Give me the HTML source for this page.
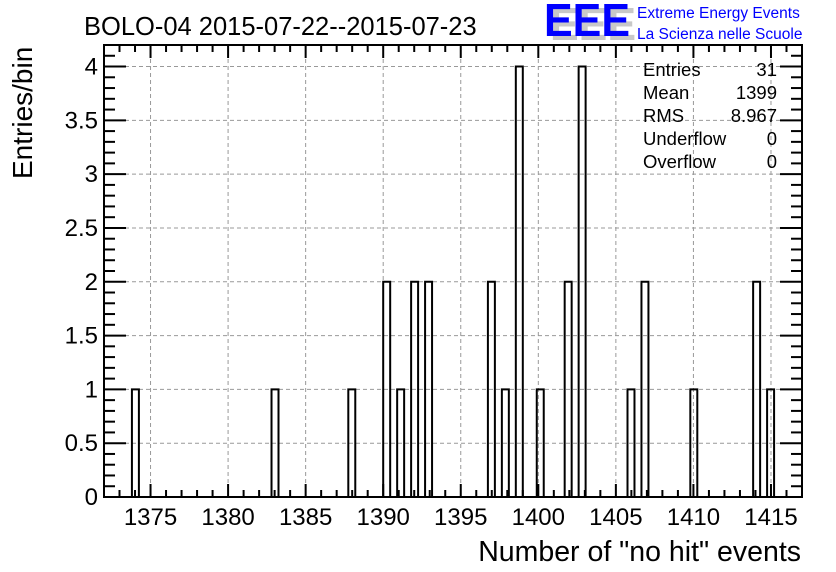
<!DOCTYPE html>
<html><head><meta charset="utf-8"><style>
html,body{margin:0;padding:0;background:#fff;}
svg{display:block;font-family:"Liberation Sans",Arial,sans-serif;}
</style></head><body>
<svg id="chart" width="836" height="572" viewBox="0 0 836 572" xmlns="http://www.w3.org/2000/svg">
<rect x="0" y="0" width="836" height="572" fill="#fff"/>
<g id="grid"></g>
<g id="bars"></g>
<g id="axes"></g>
<text x="84" y="35" font-size="25.5">BOLO-04 2015-07-22--2015-07-23</text>
<g>
<text x="550" y="40" font-size="46" font-weight="bold" fill="#c8c8c8" textLength="86" lengthAdjust="spacingAndGlyphs">EEE</text>
<text x="544" y="36" font-size="46" font-weight="bold" fill="#0000ff" textLength="86" lengthAdjust="spacingAndGlyphs">EEE</text>
<text x="637" y="18" font-size="15.5" fill="#0000ff">Extreme Energy Events</text>
<text x="637" y="39" font-size="15.5" fill="#0000ff">La Scienza nelle Scuole</text>
</g>
<g font-size="18.5">
<text x="643" y="76">Entries</text><text x="777" y="76" text-anchor="end">31</text>
<text x="643" y="99">Mean</text><text x="777" y="99" text-anchor="end">1399</text>
<text x="643" y="122">RMS</text><text x="777" y="122" text-anchor="end">8.967</text>
<text x="643" y="145">Underflow</text><text x="777" y="145" text-anchor="end">0</text>
<text x="643" y="168">Overflow</text><text x="777" y="168" text-anchor="end">0</text>
</g>
<text transform="translate(32,179) rotate(-90)" font-size="28">Entries/bin</text>
<text x="801" y="561" font-size="28.5" text-anchor="end">Number of "no hit" events</text>
</svg>
<script>
const binCenters = [1374.025,1383.025,1387.975,1390.225,1391.125,1392.025,1392.925,1396.975,1397.875,1398.775,1400.125,1401.925,1402.825,1405.975,1406.875,1410.025,1414.075,1414.975];
const binCounts = [1,1,1,2,1,2,2,2,1,4,1,2,4,1,2,1,2,1];
const xTickLabels = ["1375","1380","1385","1390","1395","1400","1405","1410","1415"];
const yTickLabels = ["0","0.5","1","1.5","2","2.5","3","3.5","4"];
const binWidth = 0.45;
const X0=104,X1=802,Y0=497,Y1=45,XMIN=1372,XMAX=1417,YMIN=0,YMAX=4.2;
const sx=v=>X0+(v-XMIN)/(XMAX-XMIN)*(X1-X0);
const sy=v=>Y0-(v-YMIN)/(YMAX-YMIN)*(Y0-Y1);
const NS="http://www.w3.org/2000/svg";
function mk(parent,tag,attrs){const e=document.createElementNS(NS,tag);for(const k in attrs)e.setAttribute(k,attrs[k]);parent.appendChild(e);return e;}
const grid=document.getElementById('grid'),bars=document.getElementById('bars'),axes=document.getElementById('axes');
xTickLabels.forEach(t=>{const v=parseFloat(t),x=sx(v);
 const g=mk(grid,'line',{x1:x,x2:x,y1:Y1,y2:Y0,stroke:'#999','stroke-dasharray':'4,3','stroke-width':1});
 
 
 const l=mk(axes,'text',{x:x,y:525,'font-size':24,'text-anchor':'middle'});l.textContent=t;
 
 
});
yTickLabels.forEach(t=>{const v=parseFloat(t),y=sy(v);
 if(v>0){const g=mk(grid,'line',{x1:X0,x2:X1,y1:y,y2:y,stroke:'#999','stroke-dasharray':'4,3','stroke-width':1});
 
 }
 const l=mk(axes,'text',{x:98,y:y+8,'font-size':24,'text-anchor':'end'});l.textContent=t;
 
 
});
binCenters.forEach((c,i)=>{const xa=sx(c-binWidth/2),xb=sx(c+binWidth/2),yt=sy(binCounts[i]);
 const p=mk(bars,'path',{d:`M${xa},${Y0}V${yt}H${xb}V${Y0}`,fill:'none',stroke:'#000','stroke-width':2});
 
 
});
const fr=mk(axes,'rect',{x:X0,y:Y1,width:X1-X0,height:Y0-Y1,fill:'none',stroke:'#000','stroke-width':2});


for(let v=XMIN;v<=XMAX;v++){const x=sx(v),L=(v%5===0)?13:7;
 mk(axes,'line',{x1:x,x2:x,y1:Y0,y2:Y0-L,stroke:'#000','stroke-width':2});
 mk(axes,'line',{x1:x,x2:x,y1:Y1,y2:Y1+L,stroke:'#000','stroke-width':2});}
for(let k=0;k<=42;k++){const v=k/10,y=sy(v),L=(k%5===0)?22:11;
 mk(axes,'line',{x1:X0,x2:X0+L,y1:y,y2:y,stroke:'#000','stroke-width':2});
 mk(axes,'line',{x1:X1,x2:X1-L,y1:y,y2:y,stroke:'#000','stroke-width':2});}
</script>
</body></html>
